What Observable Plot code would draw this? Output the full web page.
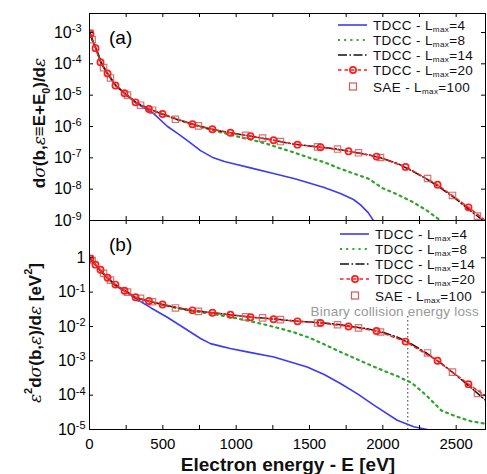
<!DOCTYPE html>
<html><head><meta charset="utf-8">
<script src="https://cdn.jsdelivr.net/npm/d3@7"></script>
<script src="https://cdn.jsdelivr.net/npm/@observablehq/plot@0.6"></script>
<style>
body{margin:0;background:#fff;}
#wrap{position:relative;width:487px;height:474px;}
#wrap svg{position:absolute;left:0;overflow:visible;}
</style>
</head><body><div id="wrap"></div>
<script>
// ---- values are log10 of the plotted quantity (log axis drawn in decades) ----
// Panel (a): dσ/dε
const a4E  = [3, 20, 40, 60, 80, 120, 180, 250, 320, 430, 532, 600, 668, 757, 845, 920, 982, 1098, 1255, 1400, 1486, 1600, 1711, 1800, 1848, 1900, 1936];
const a4V  = [-3.02,-3.25,-3.47,-3.7,-3.98,-4.29,-4.7,-4.98,-5.26,-5.56,-6.0,-6.22,-6.45,-6.77,-7.0,-7.12,-7.19,-7.32,-7.5,-7.67,-7.79,-7.95,-8.14,-8.33,-8.5,-8.75,-9.0];
const a8E  = [3, 20, 40, 60, 80, 120, 180, 250, 320, 400, 500, 600, 700, 800, 900, 1000, 1100, 1200, 1300, 1400, 1500, 1600, 1700, 1800, 1900, 2000, 2100, 2200, 2300, 2393];
const a8V  = [-3.02,-3.25,-3.47,-3.7,-3.98,-4.29,-4.7,-4.98,-5.24,-5.43,-5.61,-5.78,-5.93,-6.07,-6.19,-6.31,-6.42,-6.54,-6.69,-6.84,-7.0,-7.14,-7.33,-7.5,-7.66,-7.97,-8.17,-8.4,-8.68,-9.0];
const a14E = [3, 20, 40, 60, 80, 120, 180, 250, 320, 400, 500, 600, 700, 800, 900, 1000, 1100, 1200, 1300, 1400, 1500, 1600, 1700, 1800, 1900, 2000, 2100, 2200, 2300, 2400, 2500, 2600, 2684];
const a14V = [-3.02,-3.25,-3.47,-3.7,-3.98,-4.29,-4.7,-4.98,-5.24,-5.43,-5.61,-5.78,-5.92,-6.05,-6.15,-6.23,-6.31,-6.39,-6.48,-6.57,-6.62,-6.67,-6.73,-6.82,-6.9,-7.02,-7.18,-7.42,-7.68,-7.98,-8.32,-8.7,-9.0];
const a20E = [7, 41, 75, 123, 177, 239, 314, 405, 498, 702, 838, 961, 1098, 1255, 1418, 1575, 1766, 1957, 2155, 2373, 2584, 2700];
const a20V = [-3.05,-3.5,-3.95,-4.31,-4.69,-4.94,-5.23,-5.44,-5.6,-5.93,-6.09,-6.2,-6.31,-6.44,-6.58,-6.66,-6.79,-6.96,-7.29,-7.86,-8.58,-9.0];
const aSaeE = [3, 18, 96, 143, 259, 348, 430, 586, 743, 1064, 1180, 1302, 1555, 1691, 1834, 1984, 2305, 2475, 2645];
const aSaeV = [-3.02,-3.23,-4.12,-4.45,-5.0,-5.32,-5.48,-5.77,-5.98,-6.28,-6.37,-6.48,-6.65,-6.72,-6.84,-6.99,-7.66,-8.2,-8.86];

// Panel (b): ε² dσ/dε
const b4E  = [3, 20, 40, 60, 80, 120, 180, 250, 320, 420, 530, 640, 757, 825, 900, 960, 1075, 1257, 1484, 1600, 1711, 1830, 1939, 2098, 2211, 2302];
const b4V  = [-0.02,-0.1,-0.2,-0.3,-0.4,-0.58,-0.82,-1.0,-1.2,-1.46,-1.73,-2.03,-2.35,-2.5,-2.58,-2.64,-2.74,-2.89,-3.18,-3.4,-3.66,-3.97,-4.29,-4.73,-4.92,-5.0];
const b8E  = [3, 20, 40, 60, 80, 120, 180, 250, 320, 400, 500, 600, 700, 800, 900, 1000, 1100, 1200, 1300, 1400, 1500, 1600, 1700, 1800, 1900, 2000, 2100, 2200, 2300, 2400, 2500, 2600, 2700];
const b8V  = [-0.02,-0.1,-0.2,-0.3,-0.4,-0.58,-0.8,-0.98,-1.17,-1.26,-1.37,-1.47,-1.55,-1.61,-1.68,-1.76,-1.85,-1.95,-2.06,-2.18,-2.33,-2.52,-2.72,-2.91,-3.1,-3.28,-3.45,-3.65,-4.02,-4.45,-4.62,-4.76,-4.83];
const b14E = [3, 20, 40, 60, 80, 120, 180, 250, 320, 400, 500, 600, 700, 800, 900, 1000, 1100, 1200, 1300, 1400, 1500, 1600, 1700, 1800, 1900, 2000, 2100, 2200, 2300, 2400, 2500, 2600, 2700];
const b14V = [-0.02,-0.1,-0.2,-0.3,-0.4,-0.58,-0.8,-0.98,-1.17,-1.26,-1.36,-1.46,-1.53,-1.58,-1.63,-1.68,-1.73,-1.76,-1.8,-1.84,-1.87,-1.9,-1.94,-2.01,-2.07,-2.17,-2.31,-2.52,-2.78,-3.08,-3.42,-3.78,-4.15];
const b20E = [7, 41, 75, 123, 177, 239, 314, 405, 498, 702, 838, 961, 1098, 1255, 1418, 1575, 1766, 1957, 2155, 2373, 2584, 2700];
const b20V = [-0.03,-0.2,-0.35,-0.58,-0.78,-0.96,-1.15,-1.26,-1.36,-1.53,-1.6,-1.66,-1.73,-1.79,-1.85,-1.9,-2.0,-2.13,-2.44,-3.0,-3.68,-4.02];
const bSaeE = [3, 18, 96, 143, 259, 348, 430, 586, 743, 1064, 1180, 1302, 1555, 1691, 1834, 1984, 2305, 2475, 2645];
const bSaeV = [-0.02,-0.08,-0.45,-0.65,-1.0,-1.18,-1.28,-1.46,-1.56,-1.72,-1.75,-1.8,-1.9,-1.95,-2.04,-2.16,-2.77,-3.33,-3.95];

const binaryE = [2170];

// ---- ticks / labels ----
const xMinorTicks = [0, 250, 500, 750, 1000, 1250, 1500, 1750, 2000, 2250, 2500];
const xLabelTicks = [0, 500, 1000, 1500, 2000, 2500];
const aYTicks = [-9, -8, -7, -6, -5, -4, -3];
const bYTicks = [-5, -4, -3, -2, -1, 0];
const legendSeries = ["TDCC", "TDCC", "TDCC", "TDCC", "SAE"];
const legendLmax = ["4", "8", "14", "20", "100"];
const xTitle = "Electron energy - E [eV]";
const binaryLabel = "Binary collision energy loss";

// ---- styles ----
const FONT = '"Liberation Sans", Arial, Helvetica, sans-serif';
const ST = [
  {stroke: "#3b3bf2", strokeWidth: 1.6},
  {stroke: "#2fa52f", strokeWidth: 2.2, strokeDasharray: "2,4.2"},
  {stroke: "#111", strokeWidth: 1.5, strokeDasharray: "9,2.5,1.5,2.5"},
  {stroke: "#ff1c1c", strokeWidth: 1.5, strokeDasharray: "3.5,3"}
];
const SAE_COLOR = "#cf5b5b";

const rows = (E, V) => E.map((e, i) => ({E: e, v: V[i]}));
const fmt = d => d === 0 ? "1" : "10|" + d;

function panelMarks(S, yTicks, plotH, tickPad) {
  return [
    Plot.axisY(yTicks, {tickSize: 0, tickPadding: tickPad, fontSize: 16, tickFormat: fmt, label: null}),
    Plot.line(rows(S.e4, S.v4), {x: "E", y: "v", clip: true, ...ST[0]}),
    Plot.line(rows(S.e8, S.v8), {x: "E", y: "v", clip: true, ...ST[1]}),
    Plot.line(rows(S.e14, S.v14), {x: "E", y: "v", clip: true, ...ST[2]}),
    Plot.line(rows(S.e20, S.v20), {x: "E", y: "v", clip: true, ...ST[3]}),
    Plot.dot(rows(S.eS, S.vS), {x: "E", y: "v", symbol: "square", r: 3.6, stroke: SAE_COLOR, strokeWidth: 1.2, strokeOpacity: 0.85, fill: "none", clip: true}),
    Plot.dot(rows(S.e20, S.v20).slice(0, -1), {x: "E", y: "v", r: 3.1, stroke: "#ff1c1c", strokeWidth: 1.7, fill: "none", clip: true}),
    Plot.tickY(yTicks, {y: d => d, insetRight: 392, stroke: "black"}),
    Plot.tickY(yTicks, {y: d => d, insetLeft: 392, stroke: "black"}),
    Plot.tickX(xMinorTicks, {x: d => d, insetBottom: plotH - 4, stroke: "black"}),
    Plot.tickX(xMinorTicks, {x: d => d, insetTop: plotH - 4, stroke: "black"}),
    Plot.frame({stroke: "black", strokeWidth: 1})
  ];
}

const plotA = Plot.plot({
  width: 487, height: 221, marginLeft: 89, marginRight: 2, marginTop: 13, marginBottom: 1,
  x: {domain: [0, 2700], axis: null},
  y: {domain: [-9, -2.394]},
  style: {fontFamily: FONT, background: "transparent", color: "black"},
  marks: panelMarks({e4: a4E, v4: a4V, e8: a8E, v8: a8V, e14: a14E, v14: a14V, e20: a20E, v20: a20V, eS: aSaeE, vS: aSaeV}, aYTicks, 207, 8)
});

const plotB = Plot.plot({
  width: 487, height: 254, marginLeft: 89, marginRight: 2, marginTop: 0, marginBottom: 45,
  x: {domain: [0, 2700]},
  y: {domain: [-5, 1.086]},
  style: {fontFamily: FONT, background: "transparent", color: "black"},
  marks: [
    Plot.ruleX(binaryE, {x: d => d, insetTop: 96, stroke: "#444", strokeWidth: 1.1, strokeDasharray: "1.5,2.5"}),
    Plot.axisX(xLabelTicks, {tickSize: 0, tickPadding: 9, fontSize: 15, tickFormat: d => String(d), label: null}),
    ...panelMarks({e4: b4E, v4: b4V, e8: b8E, v8: b8V, e14: b14E, v14: b14V, e20: b20E, v20: b20V, eS: bSaeE, vS: bSaeV}, bYTicks, 209, 4)
  ]
});

const wrap = document.getElementById("wrap");
plotA.style.top = "0px";
plotB.style.top = "220px";
wrap.appendChild(plotA);
wrap.appendChild(plotB);

function supTicks(svg) {
  d3.select(svg).selectAll('[aria-label="y-axis tick label"] text').each(function () {
    const t = this.textContent;
    if (t.includes("|")) {
      const [b, e] = t.split("|");
      const s = d3.select(this);
      s.text(b);
      s.append("tspan").attr("dy", "-0.5em").attr("font-size", "11px").text(e);
    }
  });
}
supTicks(plotA); supTicks(plotB);

// rich text helper
function rich(g, parts, baseSize, subShift = 0.3, subScale = 0.63) {
  let shift = 0;
  parts.forEach(([t, k]) => {
    const sp = g.append("tspan").text(t);
    let target = 0, size = baseSize;
    if (k === "sub") { target = subShift; size = baseSize * subScale; }
    if (k === "sup") { target = -0.55; size = baseSize * 0.65; }
    if (k === "i") { sp.attr("font-style", "italic").attr("font-weight", "normal").attr("font-family", '"DejaVu Serif", serif'); }
    sp.attr("font-size", size + "px");
    const d = (target - shift) * baseSize;
    if (d !== 0) sp.attr("dy", d + "px");
    shift = target;
  });
}

function legend(svg, x0, yRows, textX) {
  const g = d3.select(svg).append("g").attr("font-family", FONT).attr("fill", "#111").attr("text-anchor", "start");
  legendSeries.forEach((name, i) => {
    const y = yRows[i];
    if (i < 4) {
      const st = ST[i];
      g.append("line").attr("x1", x0).attr("x2", x0 + 29).attr("y1", y).attr("y2", y)
        .attr("stroke", st.stroke).attr("stroke-width", st.strokeWidth)
        .attr("stroke-dasharray", st.strokeDasharray || null);
      if (i === 3) g.append("circle").attr("cx", x0 + 15).attr("cy", y).attr("r", 3.1)
        .attr("fill", "none").attr("stroke", "#ff1c1c").attr("stroke-width", 1.7);
    } else {
      g.append("rect").attr("x", x0 + 11.5).attr("y", y - 3.5).attr("width", 7).attr("height", 7)
        .attr("fill", "none").attr("stroke", SAE_COLOR).attr("stroke-width", 1.2);
    }
    const t = g.append("text").attr("x", textX).attr("y", y + 5).attr("font-size", "13.5px")
      .attr("letter-spacing", "0.35px").attr("text-anchor", "start");
    rich(t, [[name + " - L", ""], ["max", "sub"], ["=" + legendLmax[i], ""]], 13.5, 0.18, 0.6);
  });
}
legend(plotA, 338, [25, 40, 55, 70, 86.5], 373);
legend(plotB, 340, [14, 29, 44, 59, 75.5], 375);

// panel labels
d3.select(plotA).append("text").attr("x", 109).attr("y", 44).attr("text-anchor", "start").attr("font-family", FONT).attr("font-size", "19px").text("(a)");
d3.select(plotB).append("text").attr("x", 109).attr("y", 31).attr("text-anchor", "start").attr("font-family", FONT).attr("font-size", "19px").text("(b)");

// binary collision label
d3.select(plotB).append("text").attr("x", 479).attr("y", 95.5).attr("text-anchor", "end")
  .attr("font-family", FONT).attr("font-size", "13.5px").attr("letter-spacing", "0.2px").attr("fill", "#999").text(binaryLabel);

// y titles
const ta = d3.select(plotA).append("text").attr("transform", "translate(45,123) rotate(-90)")
  .attr("text-anchor", "middle").attr("font-family", FONT).attr("font-weight", "bold").attr("fill", "#111");
rich(ta, [["d", ""], ["σ", "i"], ["(b,", ""], ["ε", "i"], ["≡E+E", ""], ["0", "sub"], [")/d", ""], ["ε", "i"]], 17);
const tb = d3.select(plotB).append("text").attr("transform", "translate(41,113) rotate(-90)")
  .attr("text-anchor", "middle").attr("font-family", FONT).attr("font-weight", "bold").attr("fill", "#111");
rich(tb, [["ε", "i"], ["2", "sup"], ["d", ""], ["σ", "i"], ["(b,", ""], ["ε", "i"], [")/d", ""], ["ε", "i"], [" [eV", ""], ["2", "sup"], ["]", ""]], 17);

// x title
d3.select(plotB).append("text").attr("x", 288).attr("y", 251).attr("text-anchor", "middle")
  .attr("font-family", FONT).attr("font-weight", "bold").attr("font-size", "19px").attr("fill", "#111").text(xTitle);
</script>
</body></html>
